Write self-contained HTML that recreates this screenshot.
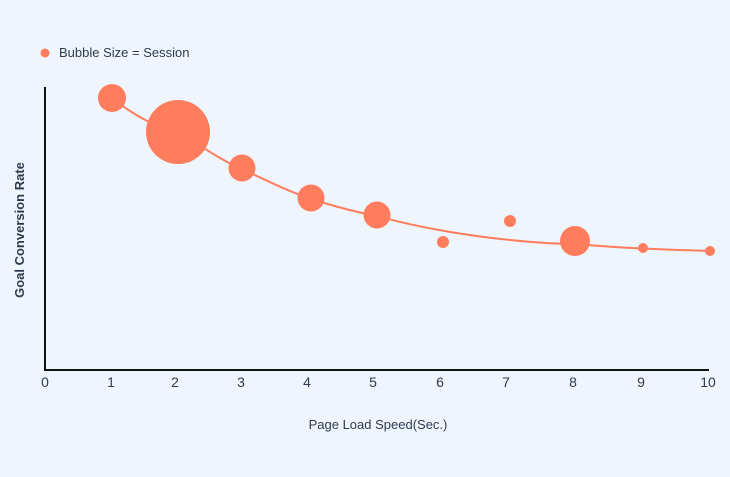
<!DOCTYPE html>
<html><head><style>
body{margin:0;background:#eef5fd;}
svg{display:block;font-family:"Liberation Sans",sans-serif;}
</style></head><body>
<svg width="730" height="477" viewBox="0 0 730 477">
<rect width="730" height="477" fill="#eef5fd"/>
<circle cx="45" cy="53" r="4.5" fill="#ff7d5c"/>
<text x="59" y="57" font-size="13" fill="#2f3a4d">Bubble Size = Session</text>
<line x1="45" y1="87" x2="45" y2="371" stroke="#111" stroke-width="2"/>
<line x1="44" y1="370" x2="709" y2="370" stroke="#111" stroke-width="2"/>
<g font-size="14" fill="#2f3a4d" text-anchor="middle">
<text x="45" y="387">0</text><text x="111" y="387">1</text><text x="175" y="387">2</text><text x="241" y="387">3</text><text x="307" y="387">4</text><text x="373" y="387">5</text><text x="440" y="387">6</text><text x="506" y="387">7</text><text x="573" y="387">8</text><text x="641" y="387">9</text><text x="708" y="387">10</text>
</g>
<g font-size="13" fill="#2f3a4d" text-anchor="middle" font-weight="bold">
<text x="378" y="429" font-weight="normal">Page Load Speed(Sec.)</text>
<text transform="translate(24,230) rotate(-90)">Goal Conversion Rate</text>
</g>
<path d="M112,98 C140,120 160,128 178,132 C200,145 220,160 242,169 C270,182 290,192 311,199 C340,208 360,213 377,216 C420,228 470,236 510,240 C540,243 560,244 575,244 C610,247 640,249 710,251" fill="none" stroke="#ff7d5c" stroke-width="2"/>
<g fill="#ff7d5c">
<circle cx="112" cy="98" r="14"/>
<circle cx="178" cy="132" r="32"/>
<circle cx="242" cy="168" r="13.5"/>
<circle cx="311" cy="198" r="13.5"/>
<circle cx="377" cy="215" r="13.5"/>
<circle cx="443" cy="242" r="6"/>
<circle cx="510" cy="221" r="6"/>
<circle cx="575" cy="241" r="15"/>
<circle cx="643" cy="248" r="5"/>
<circle cx="710" cy="251" r="5"/>
</g>
</svg>
</body></html>
